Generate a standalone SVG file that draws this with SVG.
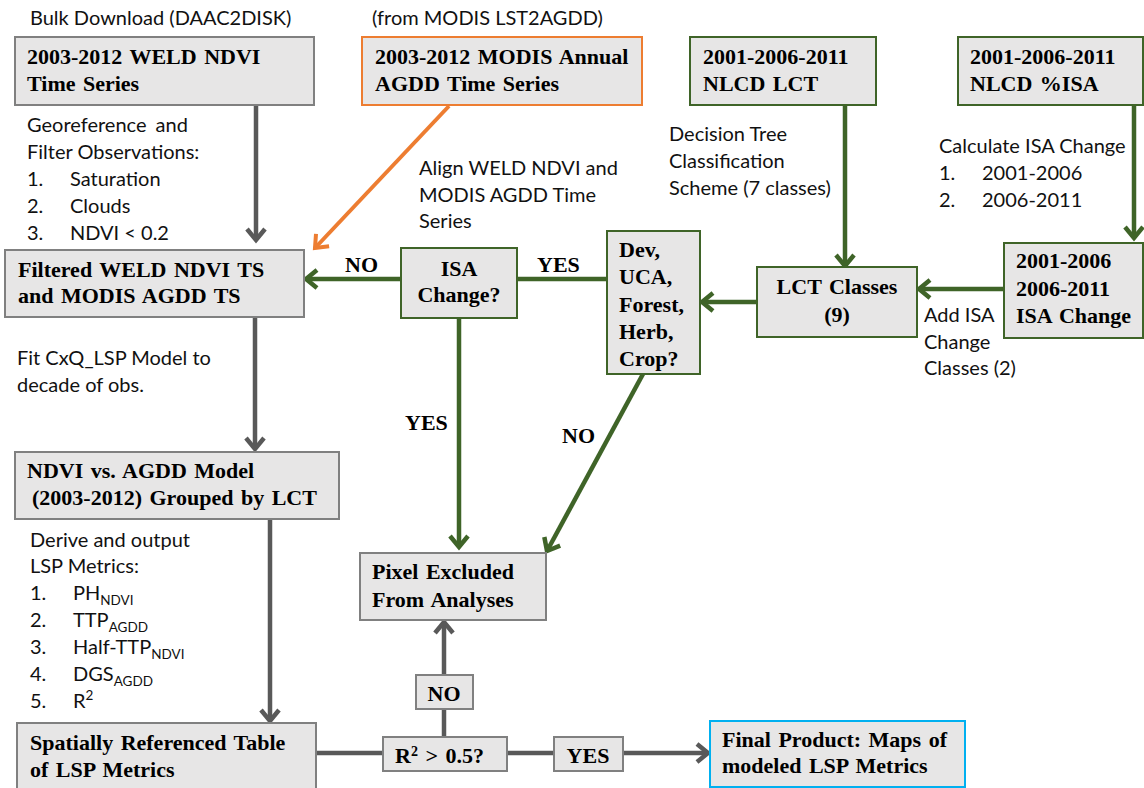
<svg xmlns="http://www.w3.org/2000/svg" width="1144" height="788" viewBox="0 0 1144 788">
<defs>
<style>
.box{fill:#E7E6E6;stroke-width:2}
.g{stroke:#808080}
.gr{stroke:#3F6428}
.or{stroke:#ED7D31}
.bl{stroke:#00B0F0}
.t{font-family:"Liberation Serif","Times New Roman",serif;font-weight:bold;font-size:22px;fill:#000;word-spacing:2px}
.l{font-family:Lato,"Open Sans",sans-serif;font-size:20px;fill:#111}
.sub{font-size:13.5px}
.cg{stroke:#595959;stroke-width:4.5;fill:none}
.cgr{stroke:#3F6428;stroke-width:4.5;fill:none}
.cor{stroke:#ED7D31;stroke-width:4;fill:none}
</style>
<marker id="ag" markerUnits="userSpaceOnUse" markerWidth="24" markerHeight="24" refX="19" refY="12" orient="auto" overflow="visible"><path d="M8,3 L19,12 L8,21" fill="none" stroke="#595959" stroke-width="4.5"/></marker>
<marker id="agr" markerUnits="userSpaceOnUse" markerWidth="24" markerHeight="24" refX="19" refY="12" orient="auto" overflow="visible"><path d="M8,3 L19,12 L8,21" fill="none" stroke="#3F6428" stroke-width="4.5"/></marker>
<marker id="aor" markerUnits="userSpaceOnUse" markerWidth="24" markerHeight="24" refX="19" refY="12" orient="auto" overflow="visible"><path d="M8,3 L19,12 L8,21" fill="none" stroke="#ED7D31" stroke-width="4"/></marker>
</defs>
<rect width="1144" height="788" fill="#fff"/>

<g id="connectors">
<line class="cg" x1="256" y1="106" x2="256" y2="240" marker-end="url(#ag)"/>
<line class="cor" x1="449" y1="106" x2="315" y2="248" marker-end="url(#aor)"/>
<line class="cgr" x1="401" y1="279" x2="306" y2="279" marker-end="url(#agr)"/>
<line class="cgr" x1="517" y1="279" x2="607" y2="279"/>
<line class="cgr" x1="845" y1="106" x2="845" y2="266" marker-end="url(#agr)"/>
<line class="cgr" x1="1134" y1="106" x2="1134" y2="238" marker-end="url(#agr)"/>
<line class="cgr" x1="1004" y1="289" x2="919" y2="289" marker-end="url(#agr)"/>
<line class="cgr" x1="757" y1="302" x2="702" y2="302" marker-end="url(#agr)"/>
<line class="cgr" x1="459" y1="318" x2="459" y2="547" marker-end="url(#agr)"/>
<line class="cgr" x1="643" y1="374" x2="547" y2="551" marker-end="url(#agr)"/>
<line class="cg" x1="255" y1="318" x2="255" y2="449" marker-end="url(#ag)"/>
<line class="cg" x1="270" y1="519" x2="270" y2="721" marker-end="url(#ag)"/>
<line class="cg" x1="316" y1="753" x2="383" y2="753"/>
<line class="cg" x1="507" y1="753" x2="554" y2="753"/>
<line class="cg" x1="623" y1="753" x2="708" y2="753" marker-end="url(#ag)"/>
<line class="cg" x1="444" y1="737" x2="444" y2="709"/>
<line class="cg" x1="444" y1="675" x2="444" y2="622" marker-end="url(#ag)"/>
</g>

<g id="labels">
<text class="l" x="30" y="25">Bulk Download (DAAC2DISK)</text>
<text class="l" x="372" y="25">(from MODIS LST2AGDD)</text>
<text class="l" x="27" y="132" word-spacing="4">Georeference and</text>
<text class="l" x="27" y="159">Filter Observations:</text>
<text class="l" x="27" y="186">1.</text><text class="l" x="70" y="186">Saturation</text>
<text class="l" x="27" y="213">2.</text><text class="l" x="70" y="213">Clouds</text>
<text class="l" x="27" y="240">3.</text><text class="l" x="70" y="240">NDVI &lt; 0.2</text>
<text class="l" x="419" y="175">Align WELD NDVI and</text>
<text class="l" x="419" y="202">MODIS AGDD Time</text>
<text class="l" x="419" y="228">Series</text>
<text class="l" x="669" y="141">Decision Tree</text>
<text class="l" x="669" y="168">Classification</text>
<text class="l" x="669" y="195">Scheme (7 classes)</text>
<text class="l" x="939" y="153">Calculate ISA Change</text>
<text class="l" x="939" y="180">1.</text><text class="l" x="982" y="180">2001-2006</text>
<text class="l" x="939" y="207">2.</text><text class="l" x="982" y="207">2006-2011</text>
<text class="l" x="924" y="322">Add ISA</text>
<text class="l" x="924" y="349">Change</text>
<text class="l" x="924" y="375">Classes (2)</text>
<text class="l" x="17" y="365">Fit CxQ_LSP Model to</text>
<text class="l" x="17" y="392">decade of obs.</text>
<text class="l" x="30" y="547">Derive and output</text>
<text class="l" x="30" y="573">LSP Metrics:</text>
<text class="l" x="30" y="600">1.</text><text class="l" x="73" y="600">PH<tspan class="sub" dy="5">NDVI</tspan></text>
<text class="l" x="30" y="627">2.</text><text class="l" x="73" y="627">TTP<tspan class="sub" dy="5">AGDD</tspan></text>
<text class="l" x="30" y="654">3.</text><text class="l" x="73" y="654">Half-TTP<tspan class="sub" dy="5">NDVI</tspan></text>
<text class="l" x="30" y="681">4.</text><text class="l" x="73" y="681">DGS<tspan class="sub" dy="5">AGDD</tspan></text>
<text class="l" x="30" y="708">5.</text><text class="l" x="73" y="708">R<tspan class="sub" dy="-8">2</tspan></text>
<text class="t" x="345" y="272">NO</text>
<text class="t" x="537" y="272">YES</text>
<text class="t" x="405" y="430">YES</text>
<text class="t" x="562" y="443">NO</text>
</g>

<g id="weld">
<rect class="box g" x="15" y="37" width="299" height="68"/>
<text class="t" x="27" y="64">2003-2012 WELD NDVI</text>
<text class="t" x="27" y="91">Time Series</text>
</g>
<g id="modis">
<rect class="box or" x="362" y="37" width="280" height="68"/>
<text class="t" x="375" y="64">2003-2012 MODIS Annual</text>
<text class="t" x="375" y="91">AGDD Time Series</text>
</g>
<g id="nlcd-lct">
<rect class="box gr" x="690" y="37" width="186" height="68"/>
<text class="t" x="703" y="64">2001-2006-2011</text>
<text class="t" x="703" y="91">NLCD LCT</text>
</g>
<g id="nlcd-isa">
<rect class="box gr" x="958" y="37" width="185" height="68"/>
<text class="t" x="970" y="64">2001-2006-2011</text>
<text class="t" x="970" y="91">NLCD %ISA</text>
</g>
<g id="filtered">
<rect class="box g" x="5" y="250" width="299" height="67"/>
<text class="t" x="18" y="277">Filtered WELD NDVI TS</text>
<text class="t" x="18" y="303">and MODIS AGDD TS</text>
</g>
<g id="isa-change-q">
<rect class="box gr" x="401" y="248" width="116" height="70"/>
<text class="t" x="459" y="276" text-anchor="middle">ISA</text>
<text class="t" x="459" y="302" text-anchor="middle">Change?</text>
</g>
<g id="dev">
<rect class="box gr" x="607" y="231" width="93" height="143"/>
<text class="t" x="619" y="257">Dev,</text>
<text class="t" x="619" y="284">UCA,</text>
<text class="t" x="619" y="312">Forest,</text>
<text class="t" x="619" y="339">Herb,</text>
<text class="t" x="619" y="366">Crop?</text>
</g>
<g id="lct-classes">
<rect class="box gr" x="757" y="267" width="160" height="70"/>
<text class="t" x="837" y="294" text-anchor="middle">LCT Classes</text>
<text class="t" x="837" y="322" text-anchor="middle">(9)</text>
</g>
<g id="isa-change">
<rect class="box gr" x="1004" y="243" width="139" height="95"/>
<text class="t" x="1016" y="268">2001-2006</text>
<text class="t" x="1016" y="296">2006-2011</text>
<text class="t" x="1016" y="323">ISA Change</text>
</g>
<g id="ndvi-model">
<rect class="box g" x="15" y="452" width="324" height="67"/>
<text class="t" x="27" y="478">NDVI vs. AGDD Model</text>
<text class="t" x="32" y="505">(2003-2012) Grouped by LCT</text>
</g>
<g id="pixel">
<rect class="box g" x="360" y="553" width="186" height="67"/>
<text class="t" x="372" y="579">Pixel Excluded</text>
<text class="t" x="372" y="607">From Analyses</text>
</g>
<g id="no-box">
<rect class="box g" x="416" y="675" width="57" height="34"/>
<text class="t" x="444" y="701" text-anchor="middle">NO</text>
</g>
<g id="r2">
<rect class="box g" x="383" y="737" width="124" height="34"/>
<text class="t" x="395" y="763">R<tspan font-size="14" dy="-7">2</tspan><tspan dy="7"> &gt; 0.5?</tspan></text>
</g>
<g id="yes-box">
<rect class="box g" x="554" y="737" width="69" height="34"/>
<text class="t" x="588" y="763" text-anchor="middle">YES</text>
</g>
<g id="spatial">
<rect class="box g" x="17" y="723" width="299" height="66"/>
<text class="t" x="30" y="750">Spatially Referenced Table</text>
<text class="t" x="30" y="777">of LSP Metrics</text>
</g>
<g id="final">
<rect class="box bl" x="710" y="721" width="255" height="66"/>
<text class="t" x="722" y="747">Final Product: Maps of</text>
<text class="t" x="722" y="773">modeled LSP Metrics</text>
</g>
</svg>
